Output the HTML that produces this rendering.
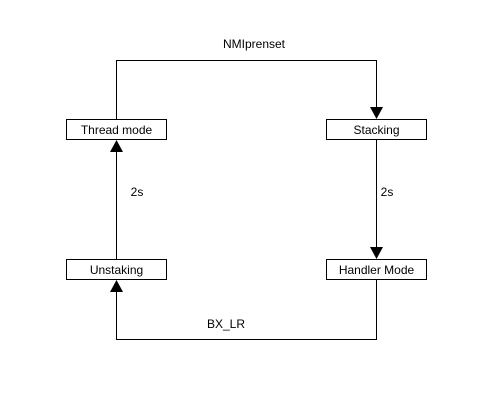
<!DOCTYPE html>
<html><head><style>body{margin:0;background:#fff}</style></head><body>
<svg width="493" height="412" xmlns="http://www.w3.org/2000/svg" font-family="Liberation Sans, sans-serif" font-size="12" fill="none">
<rect width="493" height="412" fill="#fff"/>
<g stroke="#000" stroke-width="1">
<polyline points="116.5,119 116.5,60.5 376.5,60.5 376.5,107"/>
<line x1="376.5" y1="139" x2="376.5" y2="247"/>
<line x1="116.5" y1="259" x2="116.5" y2="152"/>
<polyline points="376.5,279 376.5,339.5 116.5,339.5 116.5,292"/>
<rect x="66.5" y="119.5" width="100" height="20" fill="#fff"/>
<rect x="326.5" y="119.5" width="100" height="20" fill="#fff"/>
<rect x="66.5" y="259.5" width="100" height="20" fill="#fff"/>
<rect x="326.5" y="259.5" width="100" height="20" fill="#fff"/>
</g>
<g fill="#000">
<polygon points="370,107 383,107 376.5,119"/>
<polygon points="370,247 383,247 376.5,259"/>
<polygon points="110,152 123,152 116.5,140"/>
<polygon points="110,292 123,292 116.5,280"/>
<g text-anchor="middle">
<text x="116.5" y="134">Thread mode</text>
<text x="376.5" y="134">Stacking</text>
<text x="116.5" y="274">Unstaking</text>
<text x="376.5" y="274">Handler Mode</text>
<text x="254" y="48">NMIprenset</text>
<text x="137" y="196">2s</text>
<text x="387" y="196">2s</text>
<text x="226" y="328">BX_LR</text>
</g></g>
</svg>
</body></html>
